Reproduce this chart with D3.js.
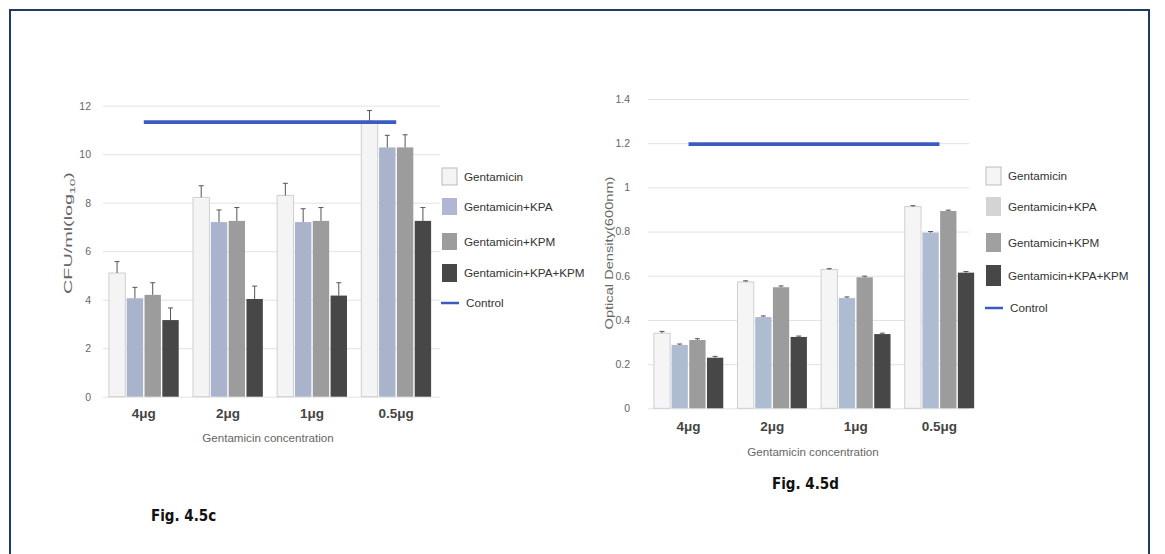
<!DOCTYPE html>
<html lang="en">
<head>
    <meta charset="UTF-8">
    <title>Fig. 4.5c / 4.5d</title>
    <script src="https://cdn.jsdelivr.net/npm/d3@7"></script>
    <style>
        body { margin: 0; background: #fff; }
        text { font-family: 'Liberation Sans', Arial, sans-serif; }
        .tick text { fill: #666; font-size: 10.5px; }
        .cat text { fill: #444; font-size: 13.5px; font-weight: bold; }
        .fig { font-family: 'Liberation Sans Narrow', 'DejaVu Sans Condensed', sans-serif; font-weight: bold; font-size: 15px; fill: #111; }
    </style>
</head>
<body>
<script>
    const [width, height] = [1165, 554]
    const categories = ['4μg', '2μg', '1μg', '0.5μg']
    const seriesNames = ['Gentamicin', 'Gentamicin+KPA', 'Gentamicin+KPM', 'Gentamicin+KPA+KPM']

    // Fig 4.5c  CFU/ml (log10)
    const cfuValues = [
        [5.1, 8.22, 8.3, 11.3],
        [4.06, 7.2, 7.2, 10.28],
        [4.2, 7.25, 7.25, 10.28],
        [3.16, 4.03, 4.17, 7.25]
    ]
    const cfuErrors = [
        [0.47, 0.48, 0.5, 0.5],
        [0.45, 0.5, 0.55, 0.5],
        [0.5, 0.55, 0.55, 0.52],
        [0.5, 0.53, 0.53, 0.55]
    ]
    const cfuControl = [11.32, 11.32, 11.32, 11.32]
    const cfuTicks = [0, 2, 4, 6, 8, 10, 12]

    // Fig 4.5d  optical density
    const odValues = [
        [0.34, 0.572, 0.628, 0.913],
        [0.287, 0.413, 0.499, 0.795],
        [0.309, 0.548, 0.593, 0.893],
        [0.229, 0.323, 0.336, 0.614]
    ]
    const odErrors = [
        [0.008, 0.005, 0.004, 0.004],
        [0.004, 0.005, 0.005, 0.005],
        [0.006, 0.006, 0.005, 0.004],
        [0.006, 0.004, 0.004, 0.005]
    ]
    const odControl = [1.196, 1.196, 1.196, 1.196]
    const odTicks = [0, 0.2, 0.4, 0.6, 0.8, 1, 1.2, 1.4]

    const svg = d3.select('body')
        .append('svg')
            .attr('width', width)
            .attr('height', height)

    // frame
    svg.append('path')
        .attr('d', `M10,${height} V10 H1149 V${height}`)
        .attr('fill', 'none')
        .attr('stroke', '#1f3a63')
        .attr('stroke-width', 2)

    const renderChart = (cfg) => {
        const g = svg.append('g')
        const y = d3.scaleLinear().domain(cfg.domain).range([cfg.bottom, cfg.top])
        const x0 = d3.scaleBand().domain(categories).range(cfg.xRange)
            .paddingInner(0.17).paddingOuter(0.07)
        const x1 = d3.scaleBand().domain(seriesNames).range([0, x0.bandwidth()]).paddingInner(0.08)

        // grid
        const yAxis = d3.axisLeft(y).tickValues(cfg.ticks).tickSize(0).tickPadding(cfg.tickPad)
            .tickFormat(d3.format('~g'))
        const ya = g.append('g').attr('transform', `translate(${cfg.gridX[0]},0)`).call(yAxis)
        ya.select('.domain').remove()
        ya.selectAll('g.tick').append('line')
            .attr('x1', 0).attr('x2', cfg.gridX[1] - cfg.gridX[0])
            .attr('stroke', '#e2e2e2').attr('stroke-width', 1)

        // bars
        seriesNames.forEach((s, si) => {
            const sg = g.append('g')
            sg.selectAll('rect').data(categories).join('rect')
                .attr('x', c => x0(c) + x1(s))
                .attr('y', (c, ci) => y(cfg.values[si][ci]))
                .attr('width', x1.bandwidth())
                .attr('height', (c, ci) => y(0) - y(cfg.values[si][ci]))
                .attr('fill', cfg.colors[si])
                .attr('stroke', si === 0 ? '#cfcfcf' : 'none')
            // error bars
            sg.selectAll('path.err').data(categories).join('path')
                .attr('class', 'err')
                .attr('d', (c, ci) => {
                    const cx = x0(c) + x1(s) + x1.bandwidth() / 2
                    const v = cfg.values[si][ci], e = cfg.errors[si][ci]
                    return `M${cx},${y(v)}V${y(v + e)}M${cx - 2.5},${y(v + e)}H${cx + 2.5}`
                })
                .attr('stroke', '#555').attr('stroke-width', 1).attr('fill', 'none')
        })

        // control line
        const line = d3.line().x((d, i) => x0(categories[i]) + x0.bandwidth() / 2).y(d => y(d))
        g.append('path').datum(cfg.control)
            .attr('d', line)
            .attr('fill', 'none')
            .attr('stroke', '#3a5bbf')
            .attr('stroke-width', 3.8)

        // category axis
        const xa = g.append('g').attr('class', 'cat')
            .attr('transform', `translate(0,${cfg.bottom})`)
            .call(d3.axisBottom(x0).tickSize(0).tickPadding(cfg.catPad))
        xa.select('.domain').remove()
        xa.selectAll('text').attr('class', null)

        g.append('text')
            .attr('x', cfg.xTitleX)
            .attr('y', cfg.xTitleY)
            .attr('text-anchor', 'middle')
            .attr('font-size', 11.6)
            .attr('fill', '#666')
            .text('Gentamicin concentration')

        const yt = g.append('text')
            .attr('transform', `translate(${cfg.yTitleX},${cfg.yTitleY}) rotate(-90)`)
            .attr('text-anchor', 'middle')
            .attr('font-size', 11.5)
            .attr('fill', '#666')
            .attr('textLength', cfg.yTitleLen)
            .attr('lengthAdjust', 'spacingAndGlyphs')
        cfg.yTitle(yt)

        // legend
        const lg = g.append('g')
        seriesNames.forEach((s, si) => {
            const [ly, lh] = cfg.legendRows[si]
            lg.append('rect')
                .attr('x', cfg.legendX).attr('y', ly)
                .attr('width', 15).attr('height', lh)
                .attr('fill', cfg.legendColors[si])
                .attr('stroke', si === 0 ? '#bbb' : 'none')
            lg.append('text')
                .attr('x', cfg.legendX + 22).attr('y', ly + lh / 2 + 4)
                .attr('font-size', 11.7).attr('fill', '#333')
                .text(s)
        })
        lg.append('line')
            .attr('x1', cfg.legendX - 1).attr('x2', cfg.legendX + 17)
            .attr('y1', cfg.controlY).attr('y2', cfg.controlY)
            .attr('stroke', '#3a5bbf').attr('stroke-width', 2.5)
        lg.append('text')
            .attr('x', cfg.legendX + 24).attr('y', cfg.controlY + 4)
            .attr('font-size', 11.7).attr('fill', '#333')
            .text('Control')
    }

    renderChart({
        domain: [0, 12], top: 105.7, bottom: 396.7,
        xRange: [103, 437], gridX: [103, 440], ticks: cfuTicks, tickPad: 12,
        values: cfuValues, errors: cfuErrors, control: cfuControl,
        colors: ['#f4f4f4', '#a9b3cc', '#9c9c9c', '#474747'],
        legendColors: ['#f4f4f4', '#b3b5d6', '#9c9c9c', '#474747'],
        catPad: 12, xTitleX: 268, xTitleY: 442,
        yTitleX: 72, yTitleY: 233, yTitleLen: 122,
        yTitle: t => {
            t.append('tspan').text('CFU/ml(log')
            t.append('tspan').attr('font-size', 8).attr('dy', 3).text('10')
            t.append('tspan').attr('dy', -3).text(')')
        },
        legendX: 442,
        legendRows: [[168, 17], [198, 17], [233, 17], [264, 18]],
        controlY: 303
    })

    renderChart({
        domain: [0, 1.4], top: 99, bottom: 408.3,
        xRange: [648, 980], gridX: [648, 969], ticks: odTicks, tickPad: 18,
        values: odValues, errors: odErrors, control: odControl,
        colors: ['#f5f5f5', '#aebcd2', '#9c9c9c', '#474747'],
        legendColors: ['#f5f5f5', '#d4d4d4', '#a0a0a0', '#474747'],
        catPad: 13, xTitleX: 813, xTitleY: 456,
        yTitleX: 613, yTitleY: 253, yTitleLen: 153,
        yTitle: t => t.text('Optical Density(600nm)'),
        legendX: 986,
        legendRows: [[167, 18], [197, 19], [233, 19], [265, 21]],
        controlY: 308
    })

    svg.append('text').attr('class', 'fig').attr('x', 151).attr('y', 521).text('Fig. 4.5c')
    svg.append('text').attr('class', 'fig').attr('x', 772).attr('y', 489).text('Fig. 4.5d')
</script>
</body>
</html>
